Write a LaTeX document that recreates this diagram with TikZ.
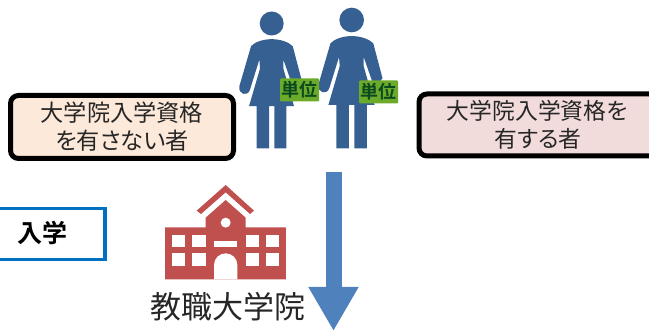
\documentclass[tikz,border=0pt]{standalone}
\usepackage{fontspec}
\setmainfont{Noto Sans CJK JP}[BoldFont={Noto Sans CJK JP Bold}]
\newcommand{\kana}{\addfontfeature{RawFeature=+palt}}
\usetikzlibrary{arrows.meta}
\definecolor{personblue}{HTML}{376092}
\definecolor{schoolred}{HTML}{C0504D}
\definecolor{arrowblue}{HTML}{4F81BD}
\definecolor{boxblue}{HTML}{0070C0}
\definecolor{unitgreen}{HTML}{6CAB2A}
\definecolor{unitdark}{HTML}{0B4A1E}
\definecolor{withoutfill}{HTML}{FDE9D9}
\definecolor{withfill}{HTML}{F2DCDB}
\tikzset{
	statusbox/.style={draw=black,line width=5pt,rounded corners=8pt,text=black!85,align=center},
	unitbadge/.style={fill=unitgreen,text=unitdark,rounded corners=1pt,minimum width=39pt,minimum height=23pt,inner sep=0pt,font=\fontsize{18}{18}\selectfont\bfseries},
	woman/.pic={
		\fill[personblue] (0,0) circle (36);
		\fill[personblue] (0,47) .. controls (-25,47) and (-50,55) .. (-62,68) -- (-97,188)
		.. controls (-102,212) and (-72,222) .. (-65,198) -- (-37,108) -- (-35,135) -- (-68,248) -- (-45,248)
		-- (-45,375) -- (-8,375) -- (-8,248) -- (8,248) -- (8,375) -- (44,375) -- (44,248) -- (67,248)
		-- (35,135) -- (35,108) -- (67,200) -- (90,170) -- (63,68) .. controls (50,55) and (25,47) .. (0,47) -- cycle;
	}
}
\begin{document}
\begin{tikzpicture}[x=1pt,y=-1pt]
	\useasboundingbox (0,0) rectangle (649,331);
	\path
	(333.5,172.5) coordinate (T)
	(333.5,331) coordinate (B);
	% people
	\path (271.7,23.5) pic[scale=.3333] {woman};
	\path (351.7,20) pic[scale=.3423] {woman};
	\node[unitbadge] (unitA) at (299.7,90) {単位};
	\node[unitbadge] (unitB) at (378.7,92) {単位};
	% boxes
	\node[statusbox,fill=withoutfill,minimum width=223pt,minimum height=63pt,font=\fontsize{23.2}{28}\selectfont] (without) at (122,127) {大学院入学資格\\{\kana を有さない者}};
	\node[statusbox,fill=withfill,minimum width=238pt,minimum height=62pt,font=\fontsize{22.8}{28}\selectfont] (with) at (538,125) {大学院入学資格を\\{\kana 有する者}};
	\node[draw=boxblue,line width=3.5pt,minimum width=120pt,minimum height=51pt] (enter) at (45,234) {};
	\node[text=black,font=\fontsize{25}{25}\selectfont\bfseries] (entertext) at (42.5,233) {入学};
	% school
	\begin{scope}[shift={(140,170)},scale=1/3]
		\fill[schoolred] (75,172) -- (197,172) -- (197,143) -- (257,90) -- (317,143) -- (317,172) -- (438,172) -- (438,328) -- (75,328) -- cycle;
		\fill[schoolred] (170,122) -- (257,45) -- (342,122) -- (330,132) -- (257,67) -- (183,132) -- cycle;
		\fill[white] (257,158) circle (15);
		\fill[white] (222,213) rectangle (292,232);
		\fill[white] (222,328) -- (222,285) arc (180:360:35) -- (292,328) -- cycle;
		\foreach \x in {96,157,317,378} \foreach \y in {195,250} \fill[white] (\x,\y) rectangle +(40,37);
	\end{scope}
	\node[text=black!85,font=\fontsize{31}{31}\selectfont] (school) at (227.5,307) {教職大学院};
	% arrow
	\draw[arrowblue,line width=16pt,-{Triangle[length=44pt,width=47pt]}] (T) -- (B);
\end{tikzpicture}
\end{document}
